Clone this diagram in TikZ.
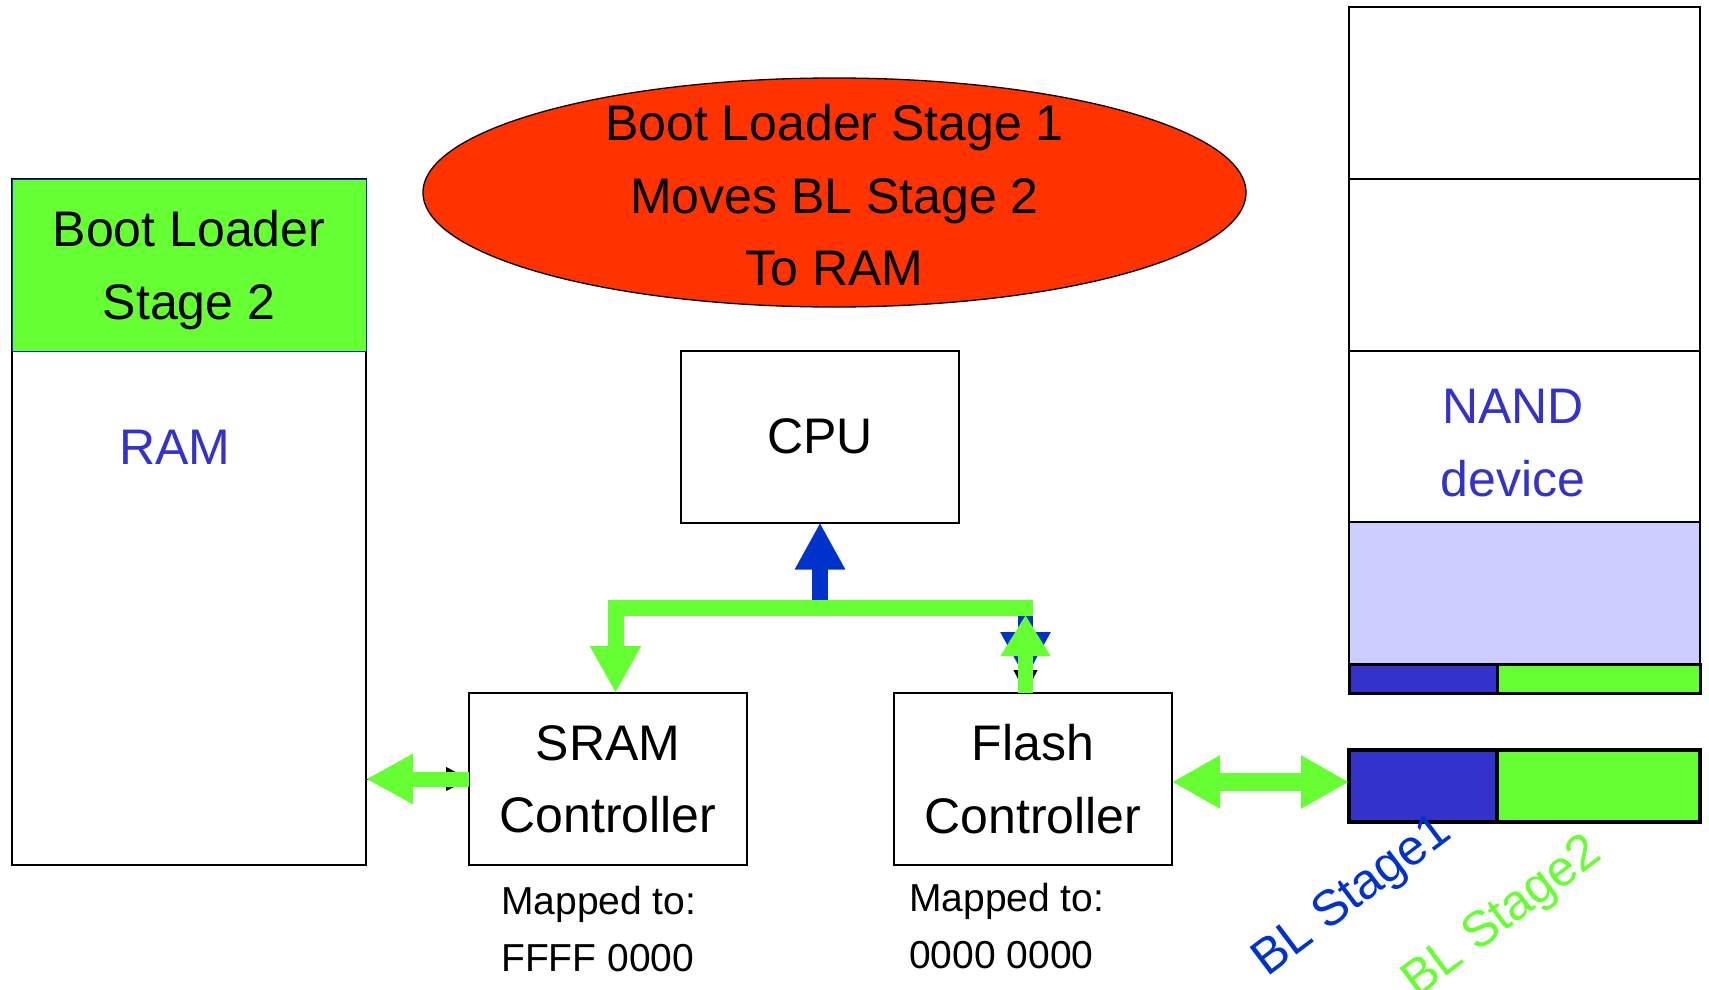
\documentclass[tikz,border=0pt]{standalone}
\usepackage{fontspec}
\setmainfont{Liberation Sans}
\usetikzlibrary{arrows.meta,shapes.geometric}

\definecolor{busgreen}{HTML}{66FF33}
\definecolor{busblue}{HTML}{0033CC}
\definecolor{txtblue}{HTML}{3333CC}
\definecolor{nandlav}{HTML}{CCCCFF}
\definecolor{bootred}{HTML}{FF3300}

\begin{document}
\begin{tikzpicture}[x=1pt,y=-1pt,
  big/.style={font=\fontsize{50}{72.5}\selectfont, align=center},
  small/.style={font=\fontsize{39}{57}\selectfont, align=left, anchor=west, inner sep=0pt},
  ctrl/.style={big, draw=black, line width=2pt, fill=white, minimum width=278pt,
    minimum height=172pt, inner sep=0pt, outer sep=0pt, text depth=0pt},
  cell/.style={draw=black, line width=2pt, minimum width=351pt, inner sep=0pt, outer sep=0pt},
  slanted/.style={font=\fontsize{50}{60}\selectfont, rotate=37, inner sep=0pt},
  greenarrow/.style={busgreen, -{Triangle[length=47pt,width=48pt]}},
  bluearrow/.style={busblue, -{Triangle[length=47pt,width=47pt]}},
  thintip/.style={black, line width=1pt, -{Triangle[length=23pt,width=24pt]}}
]
\useasboundingbox (0,0) rectangle (1709,990);

% Boot loader stage 1 bubble
\node[ellipse, draw=black, line width=1.3pt, fill=bootred, minimum width=823pt,
  minimum height=229pt, inner sep=0pt] (stage1) at (834.5,192.5) {};
\node[big, text depth=0pt] (stage1txt) at (834.5,195) {Boot Loader Stage 1\\Moves BL Stage 2\\To RAM};

% RAM with stage 2 loaded at its top
\node[draw=black, line width=2.5pt, fill=white, minimum width=354pt, minimum height=686pt,
  inner sep=0pt, outer sep=0pt] (ram) at (189,522) {};
\node[big, fill=busgreen, draw=busblue, line width=1pt, minimum width=354pt,
  minimum height=172pt, inner sep=0pt, outer sep=0pt, text depth=0pt] (bl2) at (189,265) {Boot Loader\\Stage 2};
\node[big, text=txtblue] (ramlbl) at (175,447) {RAM};

% CPU and controllers
\node[ctrl] (cpu) at (820,436.5) {CPU};
\node[ctrl] (sram) at (608,779) {SRAM\\Controller};
\node[ctrl] (flash) at (1033,779) {Flash\\Controller};
\node[small] (sramaddr) at (501,929) {Mapped to:\\FFFF 0000};
\node[small] (flashaddr) at (909,926.5) {Mapped to:\\0000 0000};

% NAND device column
\node[cell, minimum height=172pt] (nand1) at (1524.5,93) {};
\node[cell, minimum height=172pt] (nand2) at (1524.5,265) {};
\node[cell, minimum height=171pt] (nand3) at (1524.5,436.5) {};
\node[big, text=txtblue] (nandlbl) at (1513,443) {NAND\\device};
\node[cell, fill=nandlav, minimum height=142pt] (nandfree) at (1524.5,593) {};
\node[draw=black, line width=3pt, fill=txtblue, minimum width=148pt, minimum height=29pt,
  inner sep=0pt, outer sep=0pt] (nandbl1) at (1423,678.5) {};
\node[draw=black, line width=3pt, fill=busgreen, minimum width=203pt, minimum height=29pt,
  inner sep=0pt, outer sep=0pt] (nandbl2) at (1598.5,678.5) {};
\draw[black, line width=2.5pt] (nand1.north west) rectangle (nandbl2.south east);

% Boot image as read through the flash controller
\node[draw=black, line width=3.5pt, fill=txtblue, minimum width=148pt, minimum height=72pt,
  inner sep=0pt, outer sep=0pt] (img1) at (1423,786) {};
\node[draw=black, line width=3.5pt, fill=busgreen, minimum width=203pt, minimum height=72pt,
  inner sep=0pt, outer sep=0pt] (img2) at (1598.5,786) {};
\node[slanted, text=busblue] (bl1lbl) at (1353,897) {BL Stage1};
\node[slanted, text=busgreen] (bl2lbl) at (1503,918) {BL Stage2};

% bus junction points
\coordinate (busL) at (615.5,608);
\coordinate (busR) at (1033,608);
\coordinate (busF) at (1025.5,608);
\coordinate (busC) at (820,608);

% thin control arrows beneath the data paths
\draw[thintip] (ram.east |- sram.west) -- (sram.west);
\draw[thintip] (busF) -- (busF |- flash.north);

% address paths from the CPU
\draw[bluearrow, line width=16pt] (busC) -- (cpu.south);
\draw[bluearrow, line width=15pt] (busF) -- ([yshift=14pt]busF |- flash.north);

% data paths
\draw[greenarrow, line width=16pt, line join=miter] (busR) -- (busL) -- (busL |- sram.north);
\draw[busgreen, line width=15pt, -{Triangle[length=41pt,width=47pt]}]
  (busF |- flash.north) -- ([yshift=-7pt]busF);
\draw[busgreen, line width=15pt, -{Triangle[length=47pt,width=47pt]}]
  (sram.west) -- (ram.east |- sram.west);
\draw[busgreen, line width=18pt, {Triangle[length=48pt,width=50pt]}-{Triangle[length=48pt,width=50pt]}]
  ([yshift=-3pt]flash.east) -- ([yshift=-3pt]flash.east -| img1.west);
\end{tikzpicture}
\end{document}
